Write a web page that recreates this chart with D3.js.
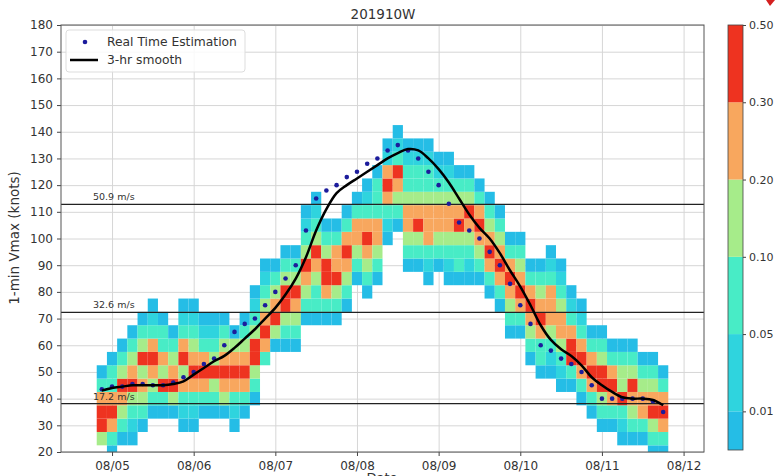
<!DOCTYPE html>
<html>
<head>
<script src="https://cdn.jsdelivr.net/npm/d3@7"></script>
<title>201910W</title>
<style>
  body { margin: 0; background: #fff; font-family: "DejaVu Sans", sans-serif; }
</style>
</head>
<body>
<svg id="chart" width="783" height="476"></svg>
<script>
// 3-hourly columns, first one centred on 08/04 21Z
var startTime = Date.UTC(2019, 7, 4, 21);
var stepHours = 3;

// lowest bin (knots) of each column, then class codes bottom -> top, 5 kt bins
var cellLo = [25, 20, 25, 25, 30, 35, 35, 35, 30, 30, 35, 35, 35, 30, 35, 40,
  55, 60, 60, 60, 70, 70, 70, 70, 75, 85, 80, 85, 100, 105, 90, 90, 85, 90,
  85, 85, 85, 85, 80, 75, 65, 65, 55, 50, 50, 45, 45, 40, 35, 30, 30, 25, 25,
  25, 20, 20];
var cellLevels = ["466531", "13565331", "13456431", "123465431", "134546431",
  "134565321", "13645331", "1465431", "1235465321", "1235654321", "13565321",
  "13464321", "14565431", "12356541", "13565431", "134664321", "35654321",
  "1465431", "13466431", "13456431", "134564321", "1334564321", "13566431",
  "13465531", "13456531", "1345531", "134565321", "134553331", "12356521",
  "13456321", "1345543321", "1346543321", "12355543321", "134554321",
  "1234554321", "133465431", "123456431", "13456531", "13565431", "13565431",
  "13456531", "13565431", "13456531", "133565431", "1234555321", "1234554321",
  "13665321", "13565321", "1356531", "13466431", "1356531", "12364431",
  "13456431", "1355431", "13465431", "1356531"];

var realTime = [43.5, 44.5, 44.5, 45.5, 45.5, 45, 45, 46, 48, 50, 53, 55, 60,
  65, 68, 70, 75, 80, 85, 90, 103, 115, 118, 120, 123, 125, 128, 130, 133, 135,
  133, 130, 125, 120, 113, 106, 103, 100, 95, 90, 83, 75, 68, 60, 58, 55, 53,
  50, 45, 40, 40, 40, 40, 40, 39, 35];
var smooth3hr = [43, 44, 44.5, 45, 45, 45, 45, 45.5, 46.5, 49, 51.5, 54, 56,
  59, 62.5, 66, 70, 74, 79, 85, 93, 103, 111, 117, 120, 122.5, 125, 127.5, 130,
  132, 133.5, 133, 130, 126, 121, 115, 109, 104, 100, 94.5, 88, 82, 75, 67.5,
  62, 58.5, 56, 52.5, 48, 45, 42.5, 40.5, 40, 40, 39.5, 37.5];

var dayTicks = ["08/05", "08/06", "08/07", "08/08", "08/09", "08/10", "08/11", "08/12"];
var levelLabels = ["0.01", "0.05", "0.10", "0.20", "0.30", "0.50"];
var levelColors = ["#25bde6", "#2fd4de", "#48ecc6", "#a6ec8a", "#f8a75e", "#ee3320"];
var refKnots = [38.1, 72.3, 112.8];
var refLabels = ["17.2 m/s", "32.6 m/s", "50.9 m/s"];

var svg = d3.select("#chart");
var plotL = 61, plotR = 704, plotT = 25, plotB = 452;
var hour = 3600 * 1000;

var x = d3.scaleUtc()
  .domain([Date.UTC(2019, 7, 4, 9), Date.UTC(2019, 7, 12, 6)])
  .range([plotL, plotR]);
var y = d3.scaleLinear().domain([20, 180]).range([plotB, plotT]);
var color = d3.scaleOrdinal().domain([1, 2, 3, 4, 5, 6]).range(levelColors);

var tickDates = dayTicks.map(function (d, i) { return Date.UTC(2019, 7, 5 + i); });

svg.append("defs").append("clipPath").attr("id", "plot")
  .append("rect").attr("x", plotL).attr("y", plotT)
  .attr("width", plotR - plotL).attr("height", plotB - plotT);

// grid
svg.append("g")
  .attr("transform", "translate(" + plotL + ",0)")
  .call(d3.axisLeft(y).tickValues(d3.range(20, 181, 10)).tickSize(-(plotR - plotL)).tickFormat(""))
  .call(function (g) { g.select(".domain").remove(); })
  .selectAll("line").attr("stroke", "#d6d6d6");
svg.append("g")
  .attr("transform", "translate(0," + plotB + ")")
  .call(d3.axisBottom(x).tickValues(tickDates).tickSize(-(plotB - plotT)).tickFormat(""))
  .call(function (g) { g.select(".domain").remove(); })
  .selectAll("line").attr("stroke", "#d6d6d6");

// probability cells
var cells = [];
cellLevels.forEach(function (s, i) {
  var t = startTime + i * stepHours * hour;
  s.split("").forEach(function (c, k) {
    if (c !== "0") cells.push({ t: t, v: cellLo[i] + 5 * k, lev: +c });
  });
});

svg.append("g").attr("clip-path", "url(#plot)")
  .selectAll("rect").data(cells).enter().append("rect")
  .attr("x", function (d) { return x(d.t - 1.5 * hour); })
  .attr("width", function (d) { return x(d.t + 1.5 * hour) - x(d.t - 1.5 * hour); })
  .attr("y", function (d) { return y(d.v + 2.5); })
  .attr("height", function (d) { return y(d.v - 2.5) - y(d.v + 2.5); })
  .attr("fill", function (d) { return color(d.lev); });

// reference lines
svg.append("g").selectAll("line").data(refKnots).enter().append("line")
  .attr("x1", plotL).attr("x2", plotR)
  .attr("y1", function (d) { return y(d); }).attr("y2", function (d) { return y(d); })
  .attr("stroke", "#222").attr("stroke-width", 1.2);
svg.append("g").selectAll("text").data(refLabels).enter().append("text")
  .attr("x", 93)
  .attr("y", function (d, i) { return y(refKnots[i]) - 4; })
  .style("font-size", "9.5px").style("fill", "#333")
  .text(function (d) { return d; });

// smooth line and dots
var line = d3.line()
  .x(function (d, i) { return x(startTime + i * stepHours * hour); })
  .y(function (d) { return y(d); })
  .curve(d3.curveCatmullRom);

svg.append("g").selectAll("circle").data(realTime).enter().append("circle")
  .attr("cx", function (d, i) { return x(startTime + i * stepHours * hour); })
  .attr("cy", function (d) { return y(d); })
  .attr("r", 2.3)
  .attr("fill", "#1c1c9c");

svg.append("path").attr("d", line(smooth3hr))
  .attr("fill", "none").attr("stroke", "#000").attr("stroke-width", 2.5);

// axes
var yAxis = svg.append("g")
  .attr("transform", "translate(" + plotL + ",0)")
  .call(d3.axisLeft(y).tickValues(d3.range(20, 181, 10)).tickSize(4).tickPadding(4));
var xAxis = svg.append("g")
  .attr("transform", "translate(0," + plotB + ")")
  .call(d3.axisBottom(x).tickValues(tickDates).tickSize(4).tickPadding(5)
    .tickFormat(function (d, i) { return dayTicks[i]; }));
[yAxis, xAxis].forEach(function (g) {
  g.select(".domain").remove();
  g.selectAll("line").attr("stroke", "#444");
  g.selectAll("text").style("font-family", "DejaVu Sans").style("font-size", "12px").style("fill", "#333");
});

svg.append("rect")
  .attr("x", plotL).attr("y", plotT).attr("width", plotR - plotL).attr("height", plotB - plotT)
  .attr("fill", "none").attr("stroke", "#555").attr("stroke-width", 1);

svg.append("text").attr("x", 383).attr("y", 19).attr("text-anchor", "middle")
  .style("font-size", "13.5px").style("fill", "#333").text("201910W");
svg.append("text").attr("transform", "translate(19,238) rotate(-90)")
  .attr("text-anchor", "middle").style("font-size", "13.5px").style("fill", "#333")
  .text("1-min Vmax (knots)");
svg.append("text").attr("x", 382).attr("y", 482).attr("text-anchor", "middle")
  .style("font-size", "13px").style("fill", "#333").text("Date");

// legend
var lg = svg.append("g");
lg.append("rect").attr("x", 66).attr("y", 30).attr("width", 179).attr("height", 42)
  .attr("rx", 3).attr("fill", "#fff").attr("fill-opacity", 0.85)
  .attr("stroke", "#ddd");
lg.append("circle").attr("cx", 85).attr("cy", 42).attr("r", 2.3).attr("fill", "#1c1c9c");
lg.append("line").attr("x1", 70).attr("x2", 98).attr("y1", 60).attr("y2", 60)
  .attr("stroke", "#000").attr("stroke-width", 2.5);
lg.append("text").attr("x", 107).attr("y", 46).style("font-size", "12.3px")
  .style("fill", "#333").text("Real Time Estimation");
lg.append("text").attr("x", 107).attr("y", 64).style("font-size", "12.3px")
  .style("fill", "#333").text("3-hr smooth");

// colorbar
var cb = d3.scaleLinear().domain([-0.5, levelLabels.length - 1]).range([plotB - 2, plotT]);
var cbX = 728, cbW = 15;
svg.append("g").selectAll("rect").data(levelColors).enter().append("rect")
  .attr("x", cbX).attr("width", cbW)
  .attr("y", function (d, i) { return cb(i); })
  .attr("height", function (d, i) { return cb(i === 0 ? -0.5 : i - 1) - cb(i); })
  .attr("fill", function (d) { return d; });
svg.append("rect").attr("x", cbX).attr("y", cb(levelLabels.length - 1))
  .attr("width", cbW).attr("height", cb(-0.5) - cb(levelLabels.length - 1))
  .attr("fill", "none").attr("stroke", "#444").attr("stroke-width", 0.8);
var cbAxis = svg.append("g").attr("transform", "translate(" + (cbX + cbW) + ",0)")
  .call(d3.axisRight(cb).tickValues(d3.range(levelLabels.length)).tickSize(3).tickPadding(3)
    .tickFormat(function (d) { return levelLabels[d]; }));
cbAxis.select(".domain").remove();
cbAxis.selectAll("line").attr("stroke", "#444");
cbAxis.selectAll("text").style("font-family", "DejaVu Sans").style("font-size", "11px").style("fill", "#333");

// small red mark in the top-right corner
svg.append("path").attr("d", "M766,0L775,0L770,6Z").attr("fill", "#d42020");
</script>
</body>
</html>
